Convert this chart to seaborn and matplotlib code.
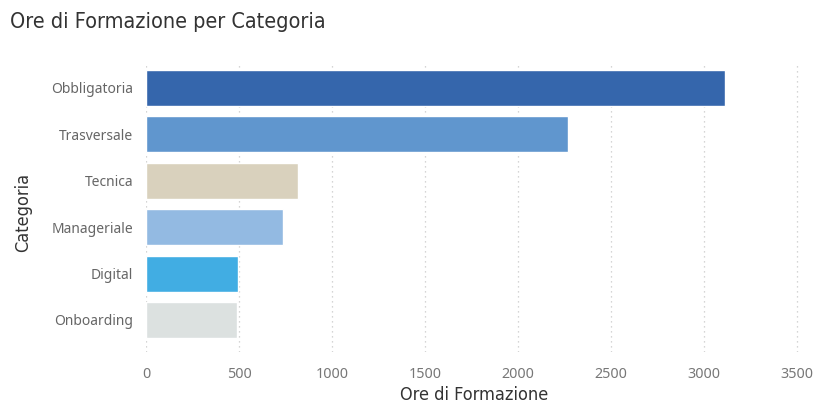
import matplotlib
matplotlib.use("Agg")
import matplotlib.pyplot as plt
import seaborn as sns
import pandas as pd

categorie = ["Obbligatoria", "Trasversale", "Tecnica", "Manageriale", "Digital", "Onboarding"]
ore = [3114, 2267, 817, 739, 496, 489]
colori = ["#3566AC", "#6096CE", "#D9D1BD", "#93BAE2", "#41ADE3", "#DCE1E0"]
x_ticks = [0, 500, 1000, 1500, 2000, 2500, 3000, 3500]

df = pd.DataFrame({"Categoria": categorie, "Ore di Formazione": ore})

sns.set_theme(style="white")
title_font = ["DejaVu Sans", "Liberation Sans"]
tick_font = ["Noto Sans", "DejaVu Sans"]

W, H = 816, 403
fig = plt.figure(figsize=(W / 100, H / 100), dpi=100)
ax = fig.add_axes([146 / W, 1 - 352 / H, (809 - 146) / W, (352 - 62) / H])

sns.barplot(data=df, x="Ore di Formazione", y="Categoria", hue="Categoria",
            palette=colori, order=categorie, hue_order=categorie,
            width=0.776, legend=False, ax=ax, saturation=1)

ax.set_xlim(0, 3565)
ax.set_ylim(5.69, -0.56)
ax.set_xticks(x_ticks)
ax.set_xticklabels([str(t) for t in x_ticks], family=tick_font, fontsize=10.3, color="#777777")
ax.set_yticks(range(len(categorie)))
ax.set_yticklabels(categorie, family=tick_font, fontsize=10, color="#666666")
ax.tick_params(axis="both", length=0)
ax.tick_params(axis="x", pad=11)
ax.tick_params(axis="y", pad=9)

for t in x_ticks:
    ax.axvline(t, color="#C8C8C8", linestyle=(0, (1, 3)), linewidth=0.9, zorder=0)

for s in ax.spines.values():
    s.set_visible(False)

ax.set_xlabel("Ore di Formazione", family=title_font, fontstretch="condensed",
              fontsize=13, color="#333333", va="center")
ax.set_ylabel("Categoria", family=title_font, fontstretch="condensed",
              fontsize=13, color="#333333", va="center")
ax.xaxis.set_label_coords((146 + 809) / 2 / W - 0.004, 1 - 395 / H, transform=fig.transFigure)
ax.yaxis.set_label_coords(23 / W, 1 - 212 / H, transform=fig.transFigure)

fig.text(10 / W, 1 - 22 / H, "Ore di Formazione per Categoria", family=title_font,
         fontstretch="condensed", fontsize=15.5, color="#333333", va="center", ha="left")

fig.savefig("out.png", dpi=100)
